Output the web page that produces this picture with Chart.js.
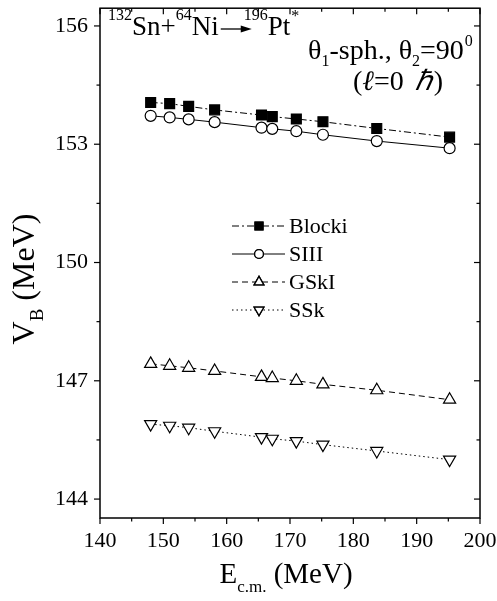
<!DOCTYPE html>
<html>
<head>
<meta charset="utf-8">
<script src="https://cdn.jsdelivr.net/npm/chart.js@4.4.0/dist/chart.umd.min.js"></script>
<style>
  html, body { margin: 0; padding: 0; background: #fff; }
</style>
</head>
<body>
<canvas id="myChart" width="497" height="601"></canvas>
<script>
// E_cm values (MeV) and barrier heights V_B (MeV) for each model
const ecm    = [148.0, 151.0, 154.0, 158.1, 165.5, 167.2, 171.0, 175.2, 183.7, 195.2];
const blocki = [154.06, 154.03, 153.96, 153.87, 153.74, 153.70, 153.64, 153.57, 153.40, 153.18];
const siii   = [153.72, 153.68, 153.63, 153.56, 153.42, 153.39, 153.33, 153.24, 153.08, 152.90];
const gski   = [147.43, 147.38, 147.33, 147.25, 147.10, 147.07, 147.00, 146.91, 146.76, 146.52];
const ssk    = [145.90, 145.86, 145.81, 145.72, 145.57, 145.53, 145.47, 145.38, 145.22, 145.00];
const seriesNames = ["Blocki", "SIII", "GSkI", "SSk"];
const xTicks = [140, 150, 160, 170, 180, 190, 200];
const yTicks = [144, 147, 150, 153, 156];

const FONT = '"Liberation Serif", "Times New Roman", serif';

const pts = (ys) => ecm.map((x, i) => ({ x: x, y: ys[i] }));

// draw a run of text pieces with their own size / baseline shift
function drawParts(ctx, x, y, parts, measureOnly) {
  let cx = x;
  parts.forEach((p) => {
    ctx.font = (p.style || "") + " " + p.size + "px " + FONT;
    if (!measureOnly) ctx.fillText(p.t, cx + (p.dx || 0), y + (p.dy || 0));
    cx += ctx.measureText(p.t).width + (p.dx || 0);
  });
  return cx - x;
}

const decor = {
  id: "decor",
  afterDraw(chart) {
    const ctx = chart.ctx, a = chart.chartArea;
    const xs = chart.scales.x, ys = chart.scales.y;
    ctx.save();
    ctx.strokeStyle = "#000";
    ctx.fillStyle = "#000";
    ctx.lineWidth = 1.5;
    ctx.strokeRect(a.left, a.top, a.right - a.left, a.bottom - a.top);

    const seg = (x1, y1, x2, y2) => { ctx.beginPath(); ctx.moveTo(x1, y1); ctx.lineTo(x2, y2); ctx.stroke(); };
    ctx.lineWidth = 1.2;
    for (let v = 140; v <= 200; v += 5) {
      const px = xs.getPixelForValue(v), len = v % 10 === 0 ? 6 : 3.5;
      seg(px, a.bottom, px, a.bottom + len);
      seg(px, a.top, px, a.top + len);
    }
    for (let v = 144; v <= 156; v += 1.5) {
      const py = ys.getPixelForValue(v), len = (v - 144) % 3 === 0 ? 6 : 3.5;
      seg(a.left, py, a.left - len, py);
      seg(a.right, py, a.right - len, py);
    }

    // reaction label
    ctx.textAlign = "left";
    ctx.textBaseline = "alphabetic";
    let cx = 108;
    cx += drawParts(ctx, cx, 20, [{ t: "132", size: 16 }]);
    cx += drawParts(ctx, cx, 35, [{ t: "Sn+", size: 27 }]);
    cx += drawParts(ctx, cx, 20, [{ t: "64", size: 16 }]);
    cx += drawParts(ctx, cx, 35, [{ t: "Ni", size: 27 }]);
    const ax1 = cx + 2, ax2 = cx + 33, ay = 29;
    ctx.lineWidth = 1.3;
    seg(ax1, ay, ax2 - 8, ay);
    ctx.beginPath();
    ctx.moveTo(ax2, ay); ctx.lineTo(ax2 - 11, ay - 3.5); ctx.lineTo(ax2 - 11, ay + 3.5);
    ctx.closePath(); ctx.fill();
    cx = ax2 - 8;
    cx += drawParts(ctx, cx, 20, [{ t: "196", size: 16 }]);
    cx += drawParts(ctx, cx, 35, [{ t: "Pt", size: 27 }]);
    drawParts(ctx, cx + 1, 21, [{ t: "*", size: 16 }]);

    // deformation / angular momentum note
    cx = 308;
    cx += drawParts(ctx, cx, 59, [{ t: "θ", size: 28 }]);
    cx += drawParts(ctx, cx, 66, [{ t: "1", size: 16 }]);
    cx += drawParts(ctx, cx, 59, [{ t: "-sph., θ", size: 28 }]);
    cx += drawParts(ctx, cx, 66, [{ t: "2", size: 16 }]);
    cx += drawParts(ctx, cx, 59, [{ t: "=90", size: 28 }]);
    drawParts(ctx, cx + 1, 46, [{ t: "0", size: 16 }]);
    cx = 353;
    cx += drawParts(ctx, cx, 90, [{ t: "(", size: 28 }, { t: "ℓ", size: 28, style: "italic" }, { t: "=0 ", size: 28 }]);
    drawParts(ctx, cx + 4, 90, [{ t: "ℏ", size: 28, style: "italic" }, { t: ")", size: 28, dx: 2 }]);

    // x title
    const xt = [{ t: "E", size: 29 }];
    let w = drawParts(ctx, 0, 0, xt, true);
    ctx.font = "17px " + FONT; w += ctx.measureText("c.m.").width;
    ctx.font = "29px " + FONT; w += ctx.measureText(" (MeV)").width;
    cx = 286 - w / 2;
    cx += drawParts(ctx, cx, 583, xt);
    cx += drawParts(ctx, cx, 592, [{ t: "c.m.", size: 17 }]);
    drawParts(ctx, cx, 583, [{ t: " (MeV)", size: 29 }]);

    // y title
    ctx.save();
    ctx.translate(34, 279);
    ctx.rotate(-Math.PI / 2);
    ctx.font = "32px " + FONT; let wy = ctx.measureText("V").width + ctx.measureText(" (MeV)").width;
    ctx.font = "19px " + FONT; wy += ctx.measureText("B").width;
    let yx = -wy / 2;
    yx += drawParts(ctx, yx, 0, [{ t: "V", size: 32 }]);
    yx += drawParts(ctx, yx, 9, [{ t: "B", size: 19 }]);
    drawParts(ctx, yx, 0, [{ t: " (MeV)", size: 32 }]);
    ctx.restore();

    // legend
    const rows = [226, 254, 282, 310];
    chart.data.datasets.forEach((ds, i) => {
      const y = rows[i];
      ctx.save();
      ctx.strokeStyle = "#000";
      ctx.lineWidth = ds.borderWidth;
      ctx.setLineDash(ds.borderDash || []);
      seg(232, y, 285, y);
      ctx.restore();
      Chart.helpers.drawPoint(ctx, {
        pointStyle: ds.pointStyle,
        rotation: ds.pointRotation || 0,
        radius: ds.pointRadius * 0.8,
        borderWidth: 1
      }, 259, y);
      ctx.fillStyle = ds.pointBackgroundColor;
      ctx.strokeStyle = "#000";
      ctx.fill();
      ctx.stroke();
      ctx.fillStyle = "#000";
      ctx.font = "22px " + FONT;
      ctx.textBaseline = "middle";
      ctx.fillText(ds.label, 289, y + 1);
      ctx.textBaseline = "alphabetic";
    });
    ctx.restore();
  }
};

const mk = (label, ys, dash, style, fill, radius, rot) => ({
  label: label,
  data: pts(ys),
  borderColor: "#000",
  borderWidth: 1,
  borderDash: dash,
  pointStyle: style,
  pointRotation: rot || 0,
  pointRadius: radius,
  pointBorderWidth: 1.2,
  pointBorderColor: "#000",
  pointBackgroundColor: fill,
  tension: 0,
  fill: false
});

new Chart(document.getElementById("myChart").getContext("2d"), {
  type: "line",
  data: {
    datasets: [
      mk(seriesNames[0], blocki, [7, 3, 2, 3], "rect", "#000", 7),
      mk(seriesNames[1], siii, [], "circle", "#fff", 5.5),
      mk(seriesNames[2], gski, [6, 4], "triangle", "#fff", 7),
      mk(seriesNames[3], ssk, [1.5, 3], "triangle", "#fff", 7, 180)
    ]
  },
  options: {
    responsive: false,
    animation: false,
    devicePixelRatio: 1,
    layout: { padding: { top: 4, right: 17, left: 0, bottom: 0 } },
    plugins: { legend: { display: false }, tooltip: { enabled: false } },
    scales: {
      x: {
        type: "linear",
        min: 140, max: 200,
        grid: { display: false, drawTicks: false },
        border: { display: false },
        afterBuildTicks: (s) => { s.ticks = xTicks.map((v) => ({ value: v })); },
        afterFit: (s) => { s.height = 83; s.paddingLeft = 0; s.paddingRight = 0; },
        ticks: { color: "#000", padding: 10, maxRotation: 0, font: { family: FONT, size: 22 } }
      },
      y: {
        type: "linear",
        min: 143.52, max: 156.45,
        grid: { display: false, drawTicks: false },
        border: { display: false },
        afterBuildTicks: (s) => { s.ticks = yTicks.map((v) => ({ value: v })); },
        afterFit: (s) => { s.width = 100; s.paddingTop = 0; s.paddingBottom = 0; },
        ticks: { color: "#000", padding: 12, font: { family: FONT, size: 22 } }
      }
    }
  },
  plugins: [decor]
});
</script>
</body>
</html>
